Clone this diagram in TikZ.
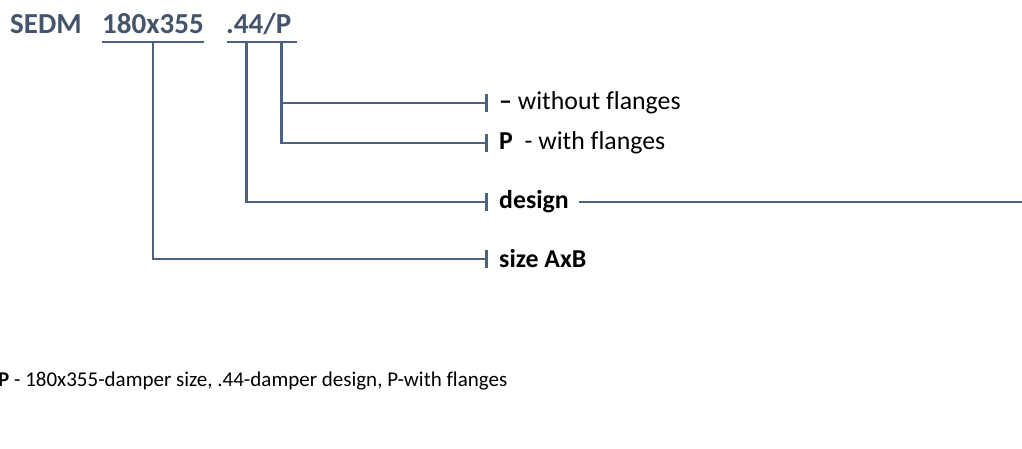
\documentclass[tikz,border=0pt]{standalone}
\usepackage{fontspec}
\setmainfont{Carlito}[Ligatures=CommonOff]
\usetikzlibrary{arrows.meta}
\definecolor{hdr}{HTML}{44546A}
\definecolor{ln}{HTML}{4D6080}
\tikzset{
  hdrtext/.style={font=\fontsize{29}{34}\selectfont\bfseries, text=hdr, inner sep=0pt, anchor=base west},
  lbl/.style={font=\fontsize{25.8}{30}\selectfont, text=black, inner ysep=0pt, inner xsep=11pt, anchor=west},
  conn/.style={draw=ln, line width=2.6pt, -{Bar[width=18pt,line width=3.2pt]}},
  rule/.style={draw=ln, line width=2.6pt},
  note/.style={font=\fontsize{21}{25}\selectfont, text=black, inner sep=0pt, anchor=base west}
}
\begin{document}
\begin{tikzpicture}[x=1pt,y=-1pt]
\useasboundingbox (0,0) rectangle (1022,448);
% header
\node[hdrtext] (sedm) at (10,33) {SEDM};
\node[hdrtext] (size) at (102,33) {180x355};
\node[hdrtext] (des)  at (226,33) {.44/P};
% underlines
\draw[rule] (102,42) -- (204,42);
\draw[rule] (227,42) -- (297,42);
\coordinate (u1) at (153,42);
\coordinate (u2) at (246.7,42);
\coordinate (u3) at (281.7,42);
% labels
\node[lbl] (wo) at (488,103) {\textbf{–} without flanges};
\node[lbl] (wi) at (488,143) {\textbf{P}\ \ - with flanges};
\node[lbl] (dg) at (488,202) {\textbf{design}};
\node[lbl] (sz) at (488,259) {\textbf{size AxB}};
\coordinate (dgend) at (1022,202);
% connectors
\draw[conn] (u3) |- (wo.west);
\draw[conn] (u3) |- (wi.west);
\draw[conn] (u2) |- (dg.west);
\draw[conn] (u1) |- (sz.west);
\draw[rule] ([xshift=-1pt]dg.east) -- (dgend);
% note
\node[note] (nt) at (-2,386) {\textbf{P} - 180x355-damper size, .44-damper design, P-with flanges};
\end{tikzpicture}
\end{document}
